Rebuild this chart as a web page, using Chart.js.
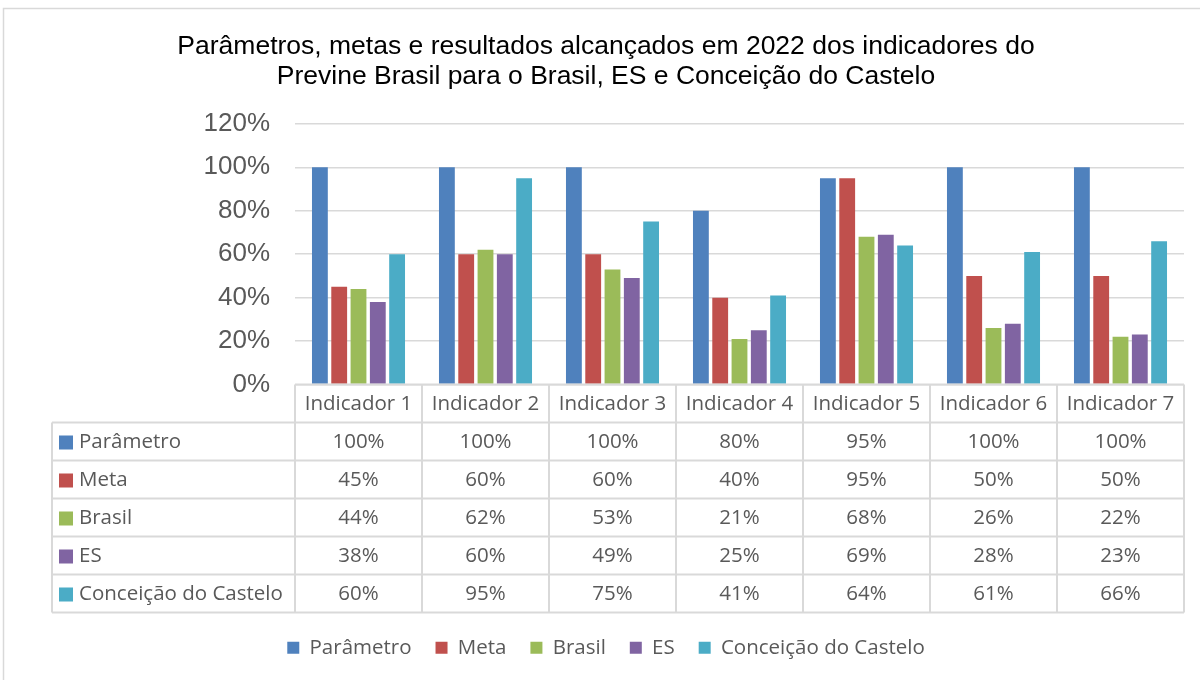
<!DOCTYPE html>
<html>
<head>
<meta charset="utf-8">
<script src="https://cdn.jsdelivr.net/npm/chart.js@4/dist/chart.umd.min.js"></script>
<style>
  body { margin: 0; background: #fff; }
  #wrap { width: 1200px; height: 680px; }
</style>
</head>
<body>
<div id="wrap"><canvas id="chart" width="1200" height="680"></canvas></div>
<script>
const categories = ['Indicador 1', 'Indicador 2', 'Indicador 3', 'Indicador 4', 'Indicador 5', 'Indicador 6', 'Indicador 7'];
const parametro = [100, 100, 100, 80, 95, 100, 100];
const meta = [45, 60, 60, 40, 95, 50, 50];
const brasil = [44, 62, 53, 21, 68, 26, 22];
const es = [38, 60, 49, 25, 69, 28, 23];
const castelo = [60, 95, 75, 41, 64, 61, 66];
const seriesNames = ['Parâmetro', 'Meta', 'Brasil', 'ES', 'Conceição do Castelo'];
const seriesColors = ['#4F81BD', '#C0504D', '#9BBB59', '#8064A2', '#4BACC6'];
const seriesValues = [parametro, meta, brasil, es, castelo];

const tableFont = '20.5px "Open Sans"';
const textGray = '#595959';
const lineGray = '#d9d9d9';

// white background + light frame around the whole chart
const frame = {
    id: 'frame',
    beforeDraw(chart) {
        const ctx = chart.ctx;
        ctx.save();
        ctx.fillStyle = '#fff';
        ctx.fillRect(0, 0, chart.width, chart.height);
        ctx.strokeStyle = lineGray;
        ctx.lineWidth = 1.5;
        ctx.strokeRect(3.5, 8.5, chart.width + 10, chart.height);
        ctx.restore();
    }
};

// Excel style data table under the plot, columns follow the x scale
const dataTable = {
    id: 'dataTable',
    afterDraw(chart) {
        const ctx = chart.ctx;
        const x = chart.scales.x;
        const area = chart.chartArea;
        const colW = area.width / categories.length;
        const rowH = 38;
        const top = area.bottom;
        const labelLeft = 52;
        const bottom = top + rowH * (seriesNames.length + 1);

        ctx.save();
        ctx.strokeStyle = lineGray;
        ctx.lineWidth = 2;
        ctx.beginPath();
        ctx.moveTo(area.left, top);
        ctx.lineTo(area.right, top);
        for (let r = 1; r <= seriesNames.length + 1; r++) {
            ctx.moveTo(labelLeft, top + rowH * r);
            ctx.lineTo(area.right, top + rowH * r);
        }
        ctx.moveTo(labelLeft, top + rowH);
        ctx.lineTo(labelLeft, bottom);
        for (let k = 0; k <= categories.length; k++) {
            ctx.moveTo(area.left + k * colW, top);
            ctx.lineTo(area.left + k * colW, bottom);
        }
        ctx.stroke();

        ctx.font = tableFont;
        ctx.fillStyle = textGray;
        ctx.textBaseline = 'middle';
        ctx.textAlign = 'center';
        categories.forEach((c, i) => {
            ctx.fillText(c, x.getPixelForValue(i), top + rowH / 2 + 1);
        });

        seriesNames.forEach((name, s) => {
            const cy = top + rowH * (s + 1) + rowH / 2 + 1;
            ctx.fillStyle = seriesColors[s];
            ctx.fillRect(labelLeft + 7, cy - 7, 14, 14);
            ctx.fillStyle = textGray;
            ctx.textAlign = 'left';
            ctx.fillText(name, labelLeft + 27, cy);
            ctx.textAlign = 'center';
            seriesValues[s].forEach((v, i) => {
                ctx.fillText(v + '%', x.getPixelForValue(i), cy);
            });
        });
        ctx.restore();
    }
};

const ctx = document.getElementById('chart').getContext('2d');

new Chart(ctx, {
    type: 'bar',
    data: {
        labels: categories,
        datasets: seriesNames.map((name, s) => ({
            label: name,
            data: seriesValues[s],
            backgroundColor: seriesColors[s],
            borderWidth: 0,
            categoryPercentage: 0.76,
            barPercentage: 0.82
        }))
    },
    options: {
        responsive: false,
        animation: false,
        devicePixelRatio: 1,
        layout: {
            padding: { left: 28, right: 16, top: 0, bottom: 12 }
        },
        plugins: {
            title: {
                display: true,
                text: ['Parâmetros, metas e resultados alcançados em 2022 dos indicadores do',
                       'Previne Brasil para o Brasil, ES e Conceição do Castelo'],
                color: '#000',
                font: { family: '"Liberation Sans", Arial', size: 26.5, weight: 'normal', lineHeight: 1.13 },
                padding: { top: 32, bottom: 32 }
            },
            legend: {
                position: 'bottom',
                labels: {
                    boxWidth: 12,
                    boxHeight: 12,
                    padding: 24,
                    color: textGray,
                    font: { family: '"Open Sans"', size: 20.5 }
                }
            },
            tooltip: { enabled: false }
        },
        scales: {
            y: {
                min: 0,
                max: 120,
                ticks: {
                    stepSize: 20,
                    padding: 25,
                    color: textGray,
                    font: { family: '"Liberation Sans", Arial', size: 26 },
                    callback: v => v + '%'
                },
                grid: { color: lineGray, lineWidth: 1.5, drawTicks: false },
                border: { display: false },
                afterFit: scale => { scale.width = 267; }
            },
            x: {
                ticks: { display: false },
                grid: { display: false },
                border: { display: false },
                afterFit: scale => { scale.height = 229; }
            }
        }
    },
    plugins: [frame, dataTable]
});
</script>
</body>
</html>
